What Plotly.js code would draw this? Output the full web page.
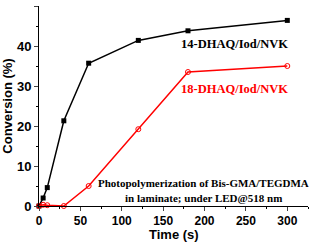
<!DOCTYPE html>
<html><head><meta charset="utf-8">
<script src="https://cdn.plot.ly/plotly-3.0.1.min.js"></script>
<style>body{margin:0;background:#fff}#c{width:310px;height:242px}</style>
</head><body><div id="c"></div>
<script>
var timeS = [0, 5, 10, 30, 60, 120, 180, 300];
var conv14 = [0, 2, 4.6, 21.3, 35.7, 41.4, 43.8, 46.4];
var conv18 = [0, 0.3, 0.2, 0, 5, 19.2, 33.5, 35];
var xTicks = [0, 50, 100, 150, 200, 250, 300];
var yTicks = [0, 10, 20, 30, 40, 50];

var traces = [
  {x: timeS, y: conv14, mode: 'lines+markers', cliponaxis: false,
   line: {color: '#000', width: 1.5},
   marker: {symbol: 'square', size: 5, color: '#000'}},
  {x: timeS, y: conv18, mode: 'lines+markers', cliponaxis: false,
   line: {color: '#ff0000', width: 1.5},
   marker: {symbol: 'circle-open', size: 5, color: '#ff0000', line: {width: 1}}}
];
var sans = 'Liberation Sans, Arial, sans-serif';
var serif = 'Liberation Serif, Times New Roman, serif';
var layout = {
  width: 310, height: 242,
  margin: {l: 39, r: 2, t: 6, b: 36},
  showlegend: false,
  paper_bgcolor: '#fff', plot_bgcolor: '#fff',
  xaxis: {range: [0, 325], tickvals: xTicks, ticks: 'outside', ticklen: 4, tickwidth: 1,
    showgrid: false, zeroline: false, showline: true, linecolor: '#000', linewidth: 1,
    tickfont: {family: sans, size: 12, color: '#000', weight: 'bold'},
    minor: {dtick: 25, tick0: 0, ticks: 'outside', ticklen: 2, tickcolor: '#000', showgrid: false}},
  yaxis: {range: [0, 50], tickvals: yTicks, ticks: 'outside', ticklen: 4, tickwidth: 1,
    showgrid: false, zeroline: false, showline: true, linecolor: '#000', linewidth: 1,
    tickfont: {family: sans, size: 13, color: '#000', weight: 'bold'},
    minor: {dtick: 5, tick0: 0, ticks: 'outside', ticklen: 2, tickcolor: '#000', showgrid: false},
    title: {text: 'Conversion (%)', font: {family: sans, size: 13, color: '#000', weight: 'bold'}, standoff: 3}},
  annotations: [
    {x: 0.5, y: -0.143, xref: 'paper', yref: 'paper', yanchor: 'middle', text: 'Time (s)', showarrow: false,
     font: {family: sans, size: 13, color: '#000', weight: 'bold'}},
    {x: 236, y: 40.6, xref: 'x', yref: 'y', text: '14-DHAQ/Iod/NVK', showarrow: false,
     font: {family: serif, size: 12.5, color: '#000', weight: 'bold'}},
    {x: 236, y: 29.3, xref: 'x', yref: 'y', text: '18-DHAQ/Iod/NVK', showarrow: false,
     font: {family: serif, size: 12.5, color: '#ff0000', weight: 'bold'}},
    {x: 199, y: 5.7, xref: 'x', yref: 'y', text: 'Photopolymerization of Bis-GMA/TEGDMA', showarrow: false,
     font: {family: serif, size: 11, color: '#000', weight: 'bold'}},
    {x: 199, y: 2.1, xref: 'x', yref: 'y', text: 'in laminate; under LED@518 nm', showarrow: false,
     font: {family: serif, size: 11, color: '#000', weight: 'bold'}}
  ]
};
Plotly.newPlot('c', traces, layout, {staticPlot: true, displayModeBar: false});
</script></body></html>
